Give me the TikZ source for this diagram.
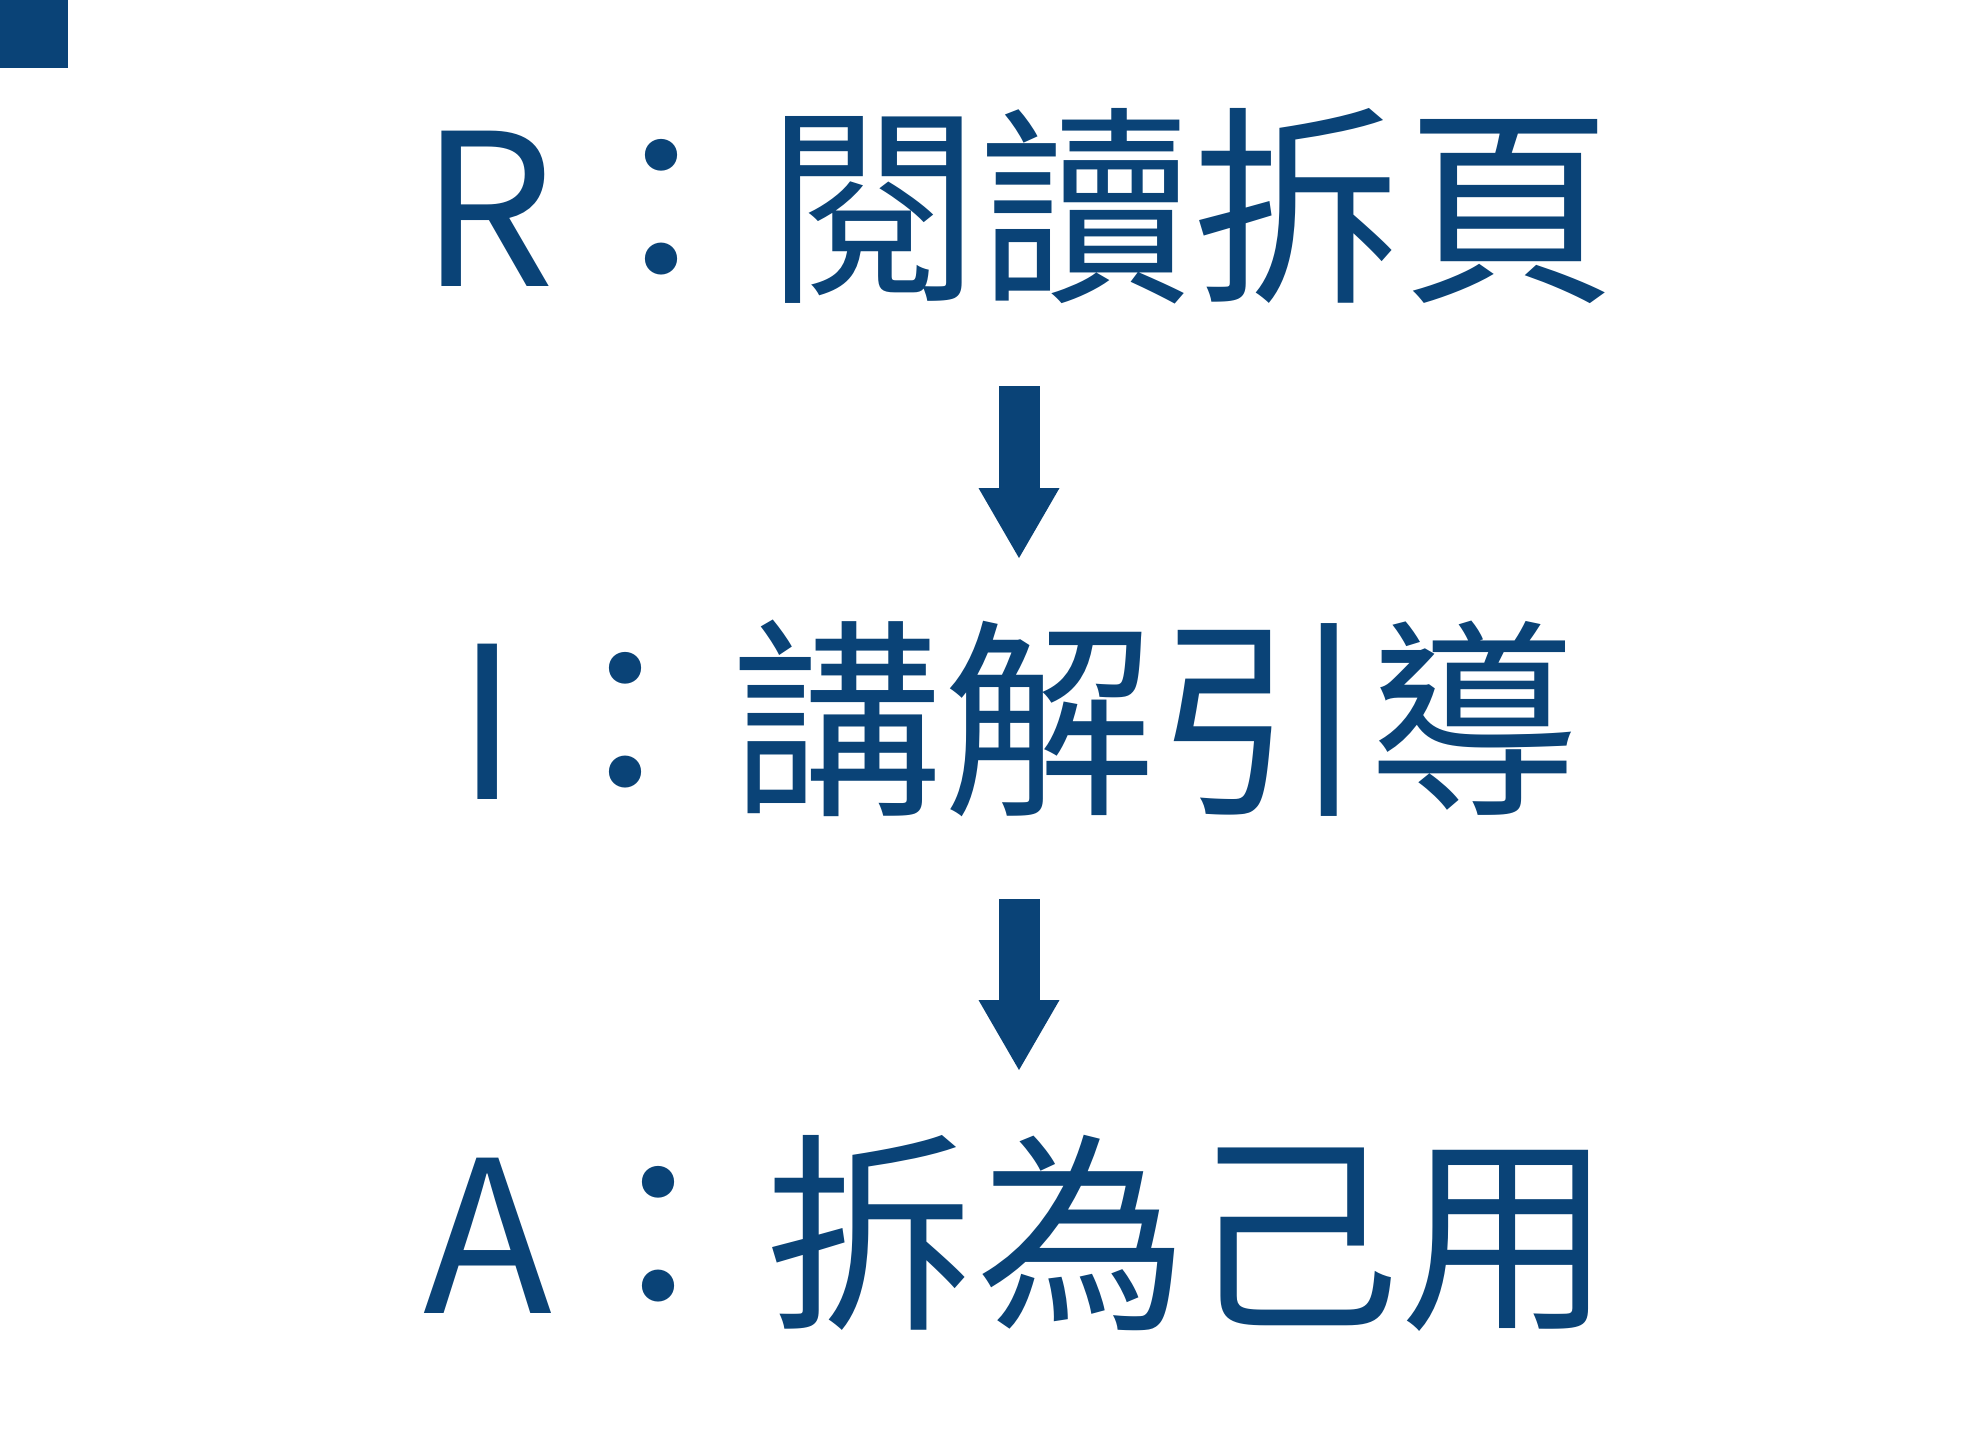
\documentclass[tikz,border=0pt]{standalone}
\usepackage{fontspec}
\setmainfont{Noto Sans CJK TC}
\usetikzlibrary{arrows.meta}
\definecolor{navy}{RGB}{10,67,119}
\begin{document}
\begin{tikzpicture}[x=1pt,y=-1pt,
  line/.style={text=navy,anchor=base,inner sep=0pt,font=\fontsize{212}{212}\selectfont},
  blockarrow/.style={draw=navy,line width=41pt,-{Triangle[length=70pt,width=81pt,line width=0pt]}}]
\useasboundingbox[fill=white] (0,0) rectangle (1988,1445);
\fill[navy] (0,0) rectangle (68,68);
\node[line] (l1) at (1018,286) {R：閱讀拆頁};
\node[line] (l2) at (1018,799) {I：講解引導};
\node[line] (l3) at (1018,1313) {A：拆為己用};
\coordinate (a1s) at (1019,386);
\coordinate (a1e) at (1019,558);
\coordinate (a2s) at (1019,899);
\coordinate (a2e) at (1019,1070);
\draw[blockarrow] (a1s) -- (a1e);
\draw[blockarrow] (a2s) -- (a2e);
\end{tikzpicture}
\end{document}
